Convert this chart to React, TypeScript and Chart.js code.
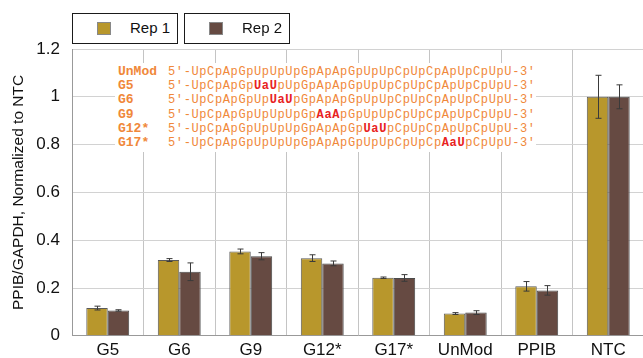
import React, { useEffect, useRef } from "react";
import { Chart, registerables } from "chart.js";

Chart.register(...registerables);

// Knockdown results per siRNA construct
const categories = ["G5", "G6", "G9", "G12*", "G17*", "UnMod", "PPIB", "NTC"];
const rep1Values = [0.116, 0.317, 0.353, 0.325, 0.243, 0.093, 0.207, 1.0];
const rep1Errors = [0.008, 0.006, 0.01, 0.014, 0.003, 0.004, 0.02, 0.09];
const rep2Values = [0.106, 0.268, 0.333, 0.303, 0.242, 0.097, 0.19, 1.0];
const rep2Errors = [0.003, 0.037, 0.015, 0.01, 0.014, 0.008, 0.02, 0.05];
const seriesNames = ["Rep 1", "Rep 2"];
const yTicks = [0, 0.2, 0.4, 0.6, 0.8, 1, 1.2];

// Sequence legend: [label, before, modified, after]
const sequenceRows: [string, string, string, string][] = [
  ["UnMod", "5'-UpCpApGpUpUpUpGpApApGpUpUpCpUpCpApUpCpUpU-3'", "", ""],
  ["G5", "5'-UpCpApGp", "UaU", "pUpGpApApGpUpUpCpUpCpApUpCpUpU-3'"],
  ["G6", "5'-UpCpApGpUp", "UaU", "pGpApApGpUpUpCpUpCpApUpCpUpU-3'"],
  ["G9", "5'-UpCpApGpUpUpUpGp", "AaA", "pGpUpUpCpUpCpApUpCpUpU-3'"],
  ["G12*", "5'-UpCpApGpUpUpUpGpApApGp", "UaU", "pCpUpCpApUpCpUpU-3'"],
  ["G17*", "5'-UpCpApGpUpUpUpGpApApGpUpUpCpUpCp", "AaU", "pCpUpU-3'"],
];

const REP1_COLOR = "#B8972C";
const REP2_COLOR = "#664A42";
const SEQ_COLOR = "#F0883A";
const MOD_COLOR = "#E8231F";
const SANS = "'Liberation Sans', Arial, sans-serif";

const errorBars = {
  id: "errorBars",
  afterDatasetsDraw(chart: any) {
    const ctx = chart.ctx;
    const y = chart.scales.y;
    const errs = [rep1Errors, rep2Errors];
    ctx.save();
    ctx.strokeStyle = "#3a3a3a";
    ctx.lineWidth = 1;
    chart.data.datasets.forEach((ds: any, di: number) => {
      const meta = chart.getDatasetMeta(di);
      meta.data.forEach((bar: any, i: number) => {
        const v = ds.data[i];
        const e = errs[di][i];
        const x = Math.round(bar.x) + 0.5;
        const top = y.getPixelForValue(v + e);
        const bot = y.getPixelForValue(v - e);
        ctx.beginPath();
        ctx.moveTo(x, top);
        ctx.lineTo(x, bot);
        ctx.moveTo(x - 3, top);
        ctx.lineTo(x + 3, top);
        ctx.moveTo(x - 3, bot);
        ctx.lineTo(x + 3, bot);
        ctx.stroke();
      });
    });
    ctx.restore();
  },
};

export default function App() {
  const canvasRef = useRef<HTMLCanvasElement | null>(null);

  useEffect(() => {
    document.body.style.margin = "0";
    const canvas = canvasRef.current!;
    const chart = new Chart(canvas, {
      type: "bar",
      data: {
        labels: categories,
        datasets: [
          {
            label: seriesNames[0],
            data: rep1Values,
            backgroundColor: REP1_COLOR,
            borderColor: "#5a5a5a",
            borderWidth: 1,
            categoryPercentage: 0.6,
            barPercentage: 1.0,
          },
          {
            label: seriesNames[1],
            data: rep2Values,
            backgroundColor: REP2_COLOR,
            borderColor: "#4a4a4a",
            borderWidth: 1,
            categoryPercentage: 0.6,
            barPercentage: 1.0,
          },
        ],
      },
      options: {
        responsive: false,
        animation: false,
        layout: { padding: { top: 49, right: 16, left: 0, bottom: 0 } },
        plugins: { legend: { display: false }, tooltip: { enabled: false } },
        scales: {
          x: {
            offset: true,
            grid: { color: "#c4c4c4", drawTicks: false, offset: true },
            border: { color: "#999999" },
            ticks: {
              color: "#111111",
              font: { family: SANS, size: 17 },
              padding: 4,
              maxRotation: 0,
            },
            afterFit(scale: any) {
              scale.height = 21;
            },
          },
          y: {
            min: 0,
            max: 1.2,
            afterBuildTicks(scale: any) {
              scale.ticks = yTicks.map((v) => ({ value: v }));
            },
            grid: { color: "#d2d2d2", drawTicks: false },
            border: { color: "#999999" },
            ticks: {
              color: "#111111",
              font: { family: SANS, size: 17 },
              padding: 12,
              callback: (v: any) => String(+Number(v).toFixed(1)),
            },
            title: {
              display: true,
              text: "PPIB/GAPDH, Normalized to NTC",
              color: "#111111",
              font: { family: SANS, size: 15.5 },
              padding: { top: 9, bottom: 0 },
            },
            afterFit(scale: any) {
              scale.width = 72;
            },
          },
        },
      },
      plugins: [errorBars],
    });
    return () => chart.destroy();
  }, []);

  const legendBox = (left: number, color: string, text: string) => (
    <div
      key={text}
      style={{
        position: "absolute",
        left,
        top: 13,
        width: 106,
        height: 31,
        boxSizing: "border-box",
        border: "1.5px solid #1a1a1a",
        background: "#fff",
      }}
    >
      <div
        style={{
          position: "absolute",
          left: 24,
          top: 8,
          width: 14,
          height: 13,
          boxSizing: "border-box",
          background: color,
          border: "1px solid #888",
        }}
      />
      <div
        style={{
          position: "absolute",
          left: 57,
          top: 5,
          font: `15px ${SANS}`,
          color: "#111",
          whiteSpace: "nowrap",
        }}
      >
        {text}
      </div>
    </div>
  );

  const mono = "'Liberation Mono', 'Courier New', monospace";

  return (
    <div
      style={{
        position: "fixed",
        left: 0,
        top: 0,
        width: 643,
        height: 358,
        overflow: "hidden",
        background: "#fff",
      }}
    >
      <canvas
        ref={canvasRef}
        width={660}
        height={358}
        style={{ position: "absolute", left: 0, top: 0, width: 660, height: 358 }}
      />
      {legendBox(72, REP1_COLOR, seriesNames[0])}
      {legendBox(184, REP2_COLOR, seriesNames[1])}
      <div
        style={{
          position: "absolute",
          left: 115,
          top: 63,
          width: 421,
          height: 89,
          background: "#fff",
        }}
      >
        {sequenceRows.map(([label, before, mod, after], i) => (
          <div
            key={label}
            style={{
              position: "absolute",
              left: 0,
              top: 2 + i * 14.2,
              height: 14,
              lineHeight: "14px",
              whiteSpace: "nowrap",
            }}
          >
            <span
              style={{
                position: "absolute",
                left: 3,
                fontFamily: mono,
                fontWeight: "bold",
                fontSize: 13,
                color: SEQ_COLOR,
              }}
            >
              {label}
            </span>
            <span
              style={{
                position: "absolute",
                left: 53,
                fontFamily: mono,
                fontSize: 12,
                letterSpacing: "0.62px",
                color: SEQ_COLOR,
              }}
            >
              {before}
              {mod && (
                <span style={{ color: MOD_COLOR, fontWeight: "bold" }}>{mod}</span>
              )}
              {after}
            </span>
          </div>
        ))}
      </div>
    </div>
  );
}
